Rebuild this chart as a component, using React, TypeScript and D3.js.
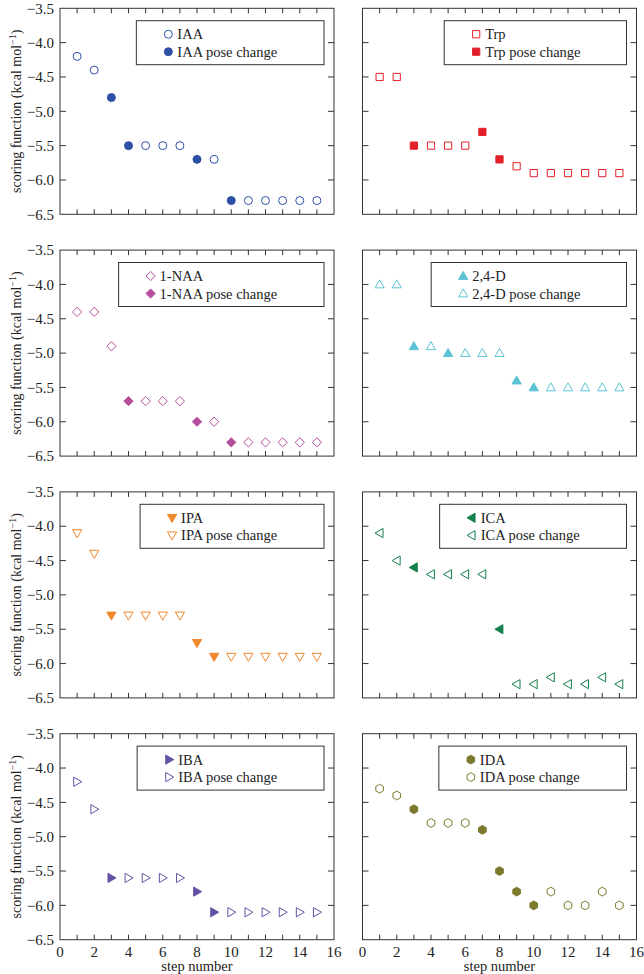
import React from "react";
import * as d3 from "d3";

const steps = [1, 2, 3, 4, 5, 6, 7, 8, 9, 10, 11, 12, 13, 14, 15];

const iaaValues = [-4.2, -4.4, -4.8, -5.5, -5.5, -5.5, -5.5, -5.7, -5.7, -6.3, -6.3, -6.3, -6.3, -6.3, -6.3];
const iaaFilled = [0, 0, 1, 1, 0, 0, 0, 1, 0, 1, 0, 0, 0, 0, 0];

const trpValues = [-4.5, -4.5, -5.5, -5.5, -5.5, -5.5, -5.3, -5.7, -5.8, -5.9, -5.9, -5.9, -5.9, -5.9, -5.9];
const trpFilled = [0, 0, 1, 0, 0, 0, 1, 1, 0, 0, 0, 0, 0, 0, 0];

const naaValues = [-4.4, -4.4, -4.9, -5.7, -5.7, -5.7, -5.7, -6.0, -6.0, -6.3, -6.3, -6.3, -6.3, -6.3, -6.3];
const naaFilled = [0, 0, 0, 1, 0, 0, 0, 1, 0, 1, 0, 0, 0, 0, 0];

const d24Values = [-4.0, -4.0, -4.9, -4.9, -5.0, -5.0, -5.0, -5.0, -5.4, -5.5, -5.5, -5.5, -5.5, -5.5, -5.5];
const d24Filled = [0, 0, 1, 0, 1, 0, 0, 0, 1, 1, 0, 0, 0, 0, 0];

const ipaValues = [-4.1, -4.4, -5.3, -5.3, -5.3, -5.3, -5.3, -5.7, -5.9, -5.9, -5.9, -5.9, -5.9, -5.9, -5.9];
const ipaFilled = [0, 0, 1, 0, 0, 0, 0, 1, 1, 0, 0, 0, 0, 0, 0];

const icaValues = [-4.1, -4.5, -4.6, -4.7, -4.7, -4.7, -4.7, -5.5, -6.3, -6.3, -6.2, -6.3, -6.3, -6.2, -6.3];
const icaFilled = [0, 0, 1, 0, 0, 0, 0, 1, 0, 0, 0, 0, 0, 0, 0];

const ibaValues = [-4.2, -4.6, -5.6, -5.6, -5.6, -5.6, -5.6, -5.8, -6.1, -6.1, -6.1, -6.1, -6.1, -6.1, -6.1];
const ibaFilled = [0, 0, 1, 0, 0, 0, 0, 1, 1, 0, 0, 0, 0, 0, 0];

const idaValues = [-4.3, -4.4, -4.6, -4.8, -4.8, -4.8, -4.9, -5.5, -5.8, -6.0, -5.8, -6.0, -6.0, -5.8, -6.0];
const idaFilled = [0, 0, 1, 0, 0, 0, 1, 1, 1, 1, 0, 0, 0, 0, 0];

const panelNames = ["IAA", "Trp", "1-NAA", "2,4-D", "IPA", "ICA", "IBA", "IDA"];
const panelColors = ["#2d4fa6", "#e3202a", "#b54c9c", "#5cc3d4", "#f0882c", "#14804a", "#6652a3", "#7b792c"];
const panelShapes = ["circle", "square", "diamond", "up", "down", "left", "right", "hex"];
// legend order: true = open marker listed first (name), filled = pose change
const openFirst = [true, true, true, false, false, false, false, false];
const panelValues = [iaaValues, trpValues, naaValues, d24Values, ipaValues, icaValues, ibaValues, idaValues];
const panelFilled = [iaaFilled, trpFilled, naaFilled, d24Filled, ipaFilled, icaFilled, ibaFilled, idaFilled];

const yTicks = [-3.5, -4.0, -4.5, -5.0, -5.5, -6.0, -6.5];
const xLabelTicks = [0, 2, 4, 6, 8, 10, 12, 14, 16];
const xMinorTicks = d3.range(1, 16);

const FONT = "'Liberation Serif', 'Times New Roman', serif";
const W = 644;
const H = 974;
const colX = [60, 362.5];
const panelW = 274;
const rowY = [8.3, 250.1, 491.9, 733.7];
const panelH = 206;
const legendFont = 14.5;
const tickFont = 15;

function fmt(v: number) {
  return (v < 0 ? "\u2212" : "") + Math.abs(v).toFixed(1);
}

function markerPath(shape: string): string {
  switch (shape) {
    case "circle":
      return d3.symbol(d3.symbolCircle, 50)() as string;
    case "square": {
      const s = 3.6;
      return `M${-s},${-s}H${s}V${s}H${-s}Z`;
    }
    case "diamond": {
      const s = 4.6;
      return `M0,${-s}L${s},0L0,${s}L${-s},0Z`;
    }
    case "up":
      return "M0,-4.6L4.6,3.4L-4.6,3.4Z";
    case "down":
      return "M0,4.6L4.6,-3.4L-4.6,-3.4Z";
    case "left":
      return "M-4.6,0L3.4,-4.6L3.4,4.6Z";
    case "right":
      return "M4.6,0L-3.4,-4.6L-3.4,4.6Z";
    case "hex": {
      const r = 4.4;
      const pts = d3.range(6).map((i) => {
        const a = (Math.PI / 3) * i - Math.PI / 2;
        return [r * Math.cos(a), r * Math.sin(a)];
      });
      return "M" + pts.map((p) => p.join(",")).join("L") + "Z";
    }
  }
  return "";
}

let measureCtx: CanvasRenderingContext2D | null = null;
function textWidth(t: string): number {
  if (!measureCtx) {
    const c = document.createElement("canvas");
    measureCtx = c.getContext("2d");
  }
  if (!measureCtx) return t.length * 7;
  measureCtx.font = `${legendFont}px ${FONT}`;
  return measureCtx.measureText(t).width;
}

function Marker({ shape, color, filled, x, y }: any) {
  return (
    <path
      d={markerPath(shape)}
      transform={`translate(${x},${y})`}
      fill={filled ? color : "#fff"}
      stroke={color}
      strokeWidth={1}
    />
  );
}

function Panel({ idx }: { idx: number }) {
  const col = idx % 2;
  const row = Math.floor(idx / 2);
  const x0 = colX[col];
  const y0 = rowY[row];
  const x = d3.scaleLinear().domain([0, 16]).range([x0, x0 + panelW]);
  const y = d3.scaleLinear().domain([-3.5, -6.5]).range([y0, y0 + panelH]);
  const color = panelColors[idx];
  const shape = panelShapes[idx];
  const name = panelNames[idx];
  const vals = panelValues[idx];
  const filled = panelFilled[idx];
  const items = openFirst[idx]
    ? [
        { label: name, filled: false },
        { label: name + " pose change", filled: true },
      ]
    : [
        { label: name, filled: true },
        { label: name + " pose change", filled: false },
      ];
  const tw = textWidth(name + " pose change");
  const boxRight = x0 + panelW - 10;
  const boxW = 41 + tw + 46;
  const boxLeft = boxRight - boxW;
  const boxTop = y0 + 12.4;
  const boxH = 44;
  const tickLen = 5;
  return (
    <g>
      {xMinorTicks.map((t) => (
        <g key={"xt" + t}>
          <line x1={x(t)} x2={x(t)} y1={y0} y2={y0 + tickLen} stroke="#333" />
          <line x1={x(t)} x2={x(t)} y1={y0 + panelH} y2={y0 + panelH - tickLen} stroke="#333" />
        </g>
      ))}
      {yTicks.slice(1, -1).map((t) => (
        <g key={"yt" + t}>
          <line x1={x0} x2={x0 + tickLen + 1} y1={y(t)} y2={y(t)} stroke="#333" />
          <line x1={x0 + panelW} x2={x0 + panelW - tickLen - 1} y1={y(t)} y2={y(t)} stroke="#333" />
        </g>
      ))}
      <rect x={x0} y={y0} width={panelW} height={panelH} fill="none" stroke="#333" strokeWidth={1} />
      {col === 0 &&
        yTicks.map((t) => (
          <text
            key={"yl" + t}
            x={x0 - 6}
            y={y(t)}
            dy="0.35em"
            textAnchor="end"
            fontSize={tickFont}
            fontFamily={FONT}
            fill="#222"
          >
            {fmt(t)}
          </text>
        ))}
      {col === 0 && (
        <text
          transform={`translate(21,${y0 + panelH / 2}) rotate(-90)`}
          textAnchor="middle"
          fontSize={14}
          fontFamily={FONT}
          fill="#222"
        >
          scoring function (kcal mol
          <tspan fontSize={10} dy={-5}>
            −1
          </tspan>
          <tspan dy={5}>)</tspan>
        </text>
      )}
      {row === 3 &&
        xLabelTicks.map((t) => (
          <text
            key={"xl" + t}
            x={x(t)}
            y={y0 + panelH + 17}
            textAnchor="middle"
            fontSize={tickFont}
            fontFamily={FONT}
            fill="#222"
          >
            {t}
          </text>
        ))}
      {row === 3 && (
        <text
          x={x(8)}
          y={y0 + panelH + 31.5}
          textAnchor="middle"
          fontSize={14.5}
          fontFamily={FONT}
          fill="#222"
        >
          step number
        </text>
      )}
      <rect x={boxLeft} y={boxTop} width={boxW} height={boxH} fill="#fff" stroke="#333" strokeWidth={1} />
      {items.map((it, i) => (
        <g key={"lg" + i}>
          <Marker shape={shape} color={color} filled={it.filled} x={boxLeft + 32} y={boxTop + 13.5 + i * 17.5} />
          <text
            x={boxLeft + 41}
            y={boxTop + 13.5 + i * 17.5}
            dy="0.35em"
            fontSize={legendFont}
            fontFamily={FONT}
            fill="#222"
          >
            {it.label}
          </text>
        </g>
      ))}
      {steps.map((s, i) => (
        <Marker key={"m" + i} shape={shape} color={color} filled={filled[i] === 1} x={x(s)} y={y(vals[i])} />
      ))}
    </g>
  );
}

export default function App() {
  return (
    <svg
      width={W}
      height={H}
      viewBox={`0 0 ${W} ${H}`}
      style={{ position: "absolute", left: 0, top: 0, background: "#fff" }}
    >
      <rect x={0} y={0} width={W} height={H} fill="#fff" />
      {d3.range(8).map((i) => (
        <Panel key={i} idx={i} />
      ))}
    </svg>
  );
}
